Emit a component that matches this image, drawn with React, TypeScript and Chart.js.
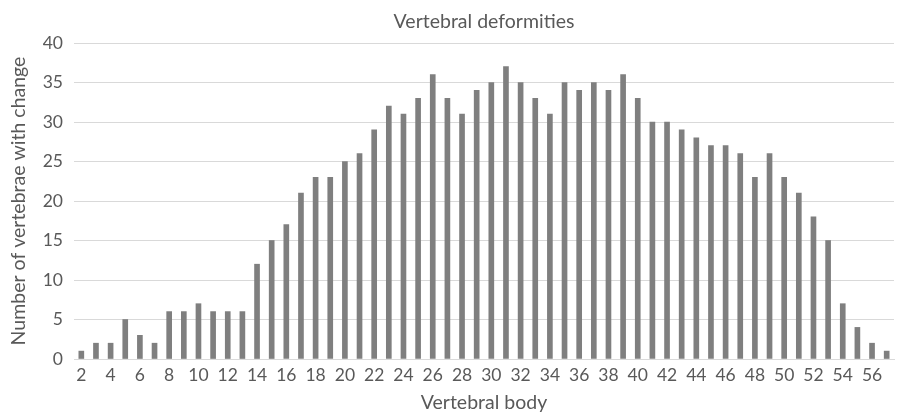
import React, { useEffect, useRef } from "react";
import { Chart, registerables } from "chart.js";

Chart.register(...registerables);

const categories: string[] = [
  "2","3","4","5","6","7","8","9","10","11","12","13","14","15","16","17","18","19","20",
  "21","22","23","24","25","26","27","28","29","30","31","32","33","34","35","36","37","38",
  "39","40","41","42","43","44","45","46","47","48","49","50","51","52","53","54","55","56","57",
];
const counts: number[] = [
  1, 2, 2, 5, 3, 2, 6, 6, 7, 6, 6, 6, 12, 15, 17, 21, 23, 23, 25,
  26, 29, 32, 31, 33, 36, 33, 31, 34, 35, 37, 35, 33, 31, 35, 34, 35, 34,
  36, 33, 30, 30, 29, 28, 27, 27, 26, 23, 26, 23, 21, 18, 15, 7, 4, 2, 1,
];
const yTicks: number[] = [0, 5, 10, 15, 20, 25, 30, 35, 40];

const FONT = "Lato, 'Open Sans', sans-serif";
const TEXT = "#595959";

export default function App() {
  const ref = useRef<HTMLCanvasElement | null>(null);
  useEffect(() => {
    if (!ref.current) return;
    const chart = new Chart(ref.current, {
      type: "bar",
      data: {
        labels: categories,
        datasets: [
          {
            label: "Vertebral deformities",
            data: counts,
            backgroundColor: "#7f7f7f",
            barThickness: 5,
          },
        ],
      },
      options: {
        animation: false,
        responsive: false,
        maintainAspectRatio: false,
        layout: { padding: { left: 0, right: 3, top: 0, bottom: 0 } },
        plugins: {
          legend: { display: false },
          tooltip: { enabled: false },
          title: {
            display: true,
            fullSize: false,
            text: "Vertebral deformities",
            color: TEXT,
            font: { family: FONT, size: 19.5, weight: "normal" },
            padding: { top: 10, bottom: 9.6 },
          },
        },
        scales: {
          x: {
            grid: { display: false, drawTicks: false },
            border: { display: true, color: "#d9d9d9" },
            ticks: {
              autoSkip: false,
              maxRotation: 0,
              color: TEXT,
              font: { family: FONT, size: 17.5 },
              padding: 6,
              callback: (_v: any, i: number) => (i % 2 === 0 ? categories[i] : ""),
            },
            title: {
              display: true,
              text: "Vertebral body",
              color: TEXT,
              font: { family: FONT, size: 19.5 },
              padding: { top: 0, bottom: 0 },
            },
            afterFit: (s: any) => {
              s.height = 55;
            },
          },
          y: {
            min: 0,
            max: 40,
            afterBuildTicks: (s: any) => {
              s.ticks = yTicks.map((v) => ({ value: v }));
            },
            grid: { color: "#d9d9d9", drawTicks: false },
            border: { display: false },
            ticks: {
              color: TEXT,
              font: { family: FONT, size: 17.5 },
              padding: 11,
            },
            title: {
              display: true,
              text: "Number of vertebrae with change",
              color: TEXT,
              font: { family: FONT, size: 19.5 },
              padding: { top: 7, bottom: 0 },
            },
            afterFit: (s: any) => {
              s.width = 74;
            },
          },
        },
      },
    });
    return () => chart.destroy();
  }, []);
  return (
    <div style={{ position: "fixed", left: 0, top: 0, width: 897, height: 414, background: "#fff" }}>
      <canvas ref={ref} width={897} height={414} style={{ width: 897, height: 414, display: "block" }} />
    </div>
  );
}
